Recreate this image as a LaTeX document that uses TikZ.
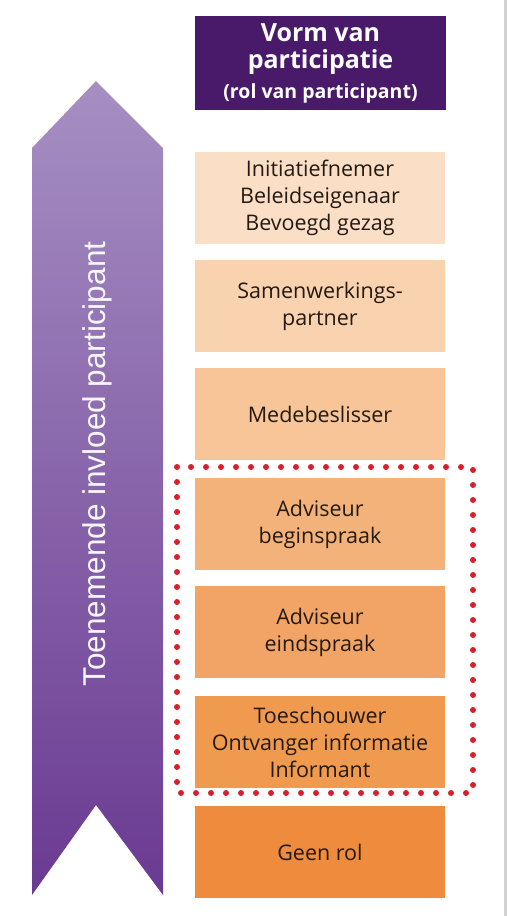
\documentclass[tikz,border=0pt]{standalone}
\usepackage{fontspec}
\setmainfont{Open Sans}
\setsansfont{Liberation Sans}

\definecolor{headpurple}{HTML}{4A1A6A}
\definecolor{arrowtop}{HTML}{A68FC3}
\definecolor{arrowbot}{HTML}{6A3A92}
\definecolor{roleone}{HTML}{FADFC6}
\definecolor{roletwo}{HTML}{F9D3AF}
\definecolor{rolethree}{HTML}{F7C597}
\definecolor{rolefour}{HTML}{F4B27B}
\definecolor{rolefive}{HTML}{F2A466}
\definecolor{rolesix}{HTML}{F09A50}
\definecolor{roleseven}{HTML}{EE8B3C}
\definecolor{roletext}{HTML}{241A12}
\definecolor{dotred}{HTML}{D7202B}

\tikzset{
  rolebox/.style={minimum width=250pt, minimum height=92pt, inner sep=0pt,
    align=center, text=roletext, font=\fontsize{21.5}{27}\selectfont},
  headbox/.style={fill=headpurple, minimum width=251pt, minimum height=94pt,
    inner sep=0pt, align=center, text=white,
    font=\bfseries\fontsize{25}{27}\selectfont},
}

\begin{document}
\begin{tikzpicture}[x=1pt, y=-1pt]

    % Fix the page to the size of the reference
    \useasboundingbox (0,0) rectangle (509,916);

    % Grey edge on the right
    \draw[line width=3pt, gray!35] (505,0) -- (505,916);

    % The big arrow on the left
    \shade[top color=arrowtop, bottom color=arrowbot]
        (96,81) -- (163,148) -- (163,895) -- (96,805)
        -- (32,895) -- (32,148) -- cycle;
    \node[rotate=90, text=white!92!arrowtop, font=\sffamily\fontsize{31.5}{36}\selectfont]
        (invloed) at (97,464) {Toenemende invloed participant};

    % Heading box
    \node[headbox] (vorm) at (320.5,63)
        {Vorm van\\participatie\\[3pt]{\fontsize{19.5}{22}\selectfont (rol van participant)}};

    % The roles, from most to least influence
    \node[rolebox, fill=roleone] (initiatief) at (320,198)
        {Initiatiefnemer\\Beleidseigenaar\\Bevoegd gezag};
    \node[rolebox, fill=roletwo] (samenwerking) at (320,306)
        {Samenwerkings-\\partner};
    \node[rolebox, fill=rolethree] (mede) at (320,414)
        {Medebeslisser};
    \node[rolebox, fill=rolefour] (begin) at (320,524)
        {Adviseur\\beginspraak};
    \node[rolebox, fill=rolefive] (eind) at (320,632)
        {Adviseur\\eindspraak};
    \node[rolebox, fill=rolesix] (toeschouwer) at (320,742)
        {Toeschouwer\\Ontvanger informatie\\Informant};
    \node[rolebox, fill=roleseven] (geen) at (320,852)
        {Geen rol};

    % Red dotted frame round the three advisory roles
    \coordinate (frametl) at (177,467);
    \coordinate (framebr) at (473,793);
    \draw[dotred, line width=6pt, line cap=round, dash pattern=on 0pt off 15pt]
        (frametl) rectangle (framebr);

\end{tikzpicture}
\end{document}
